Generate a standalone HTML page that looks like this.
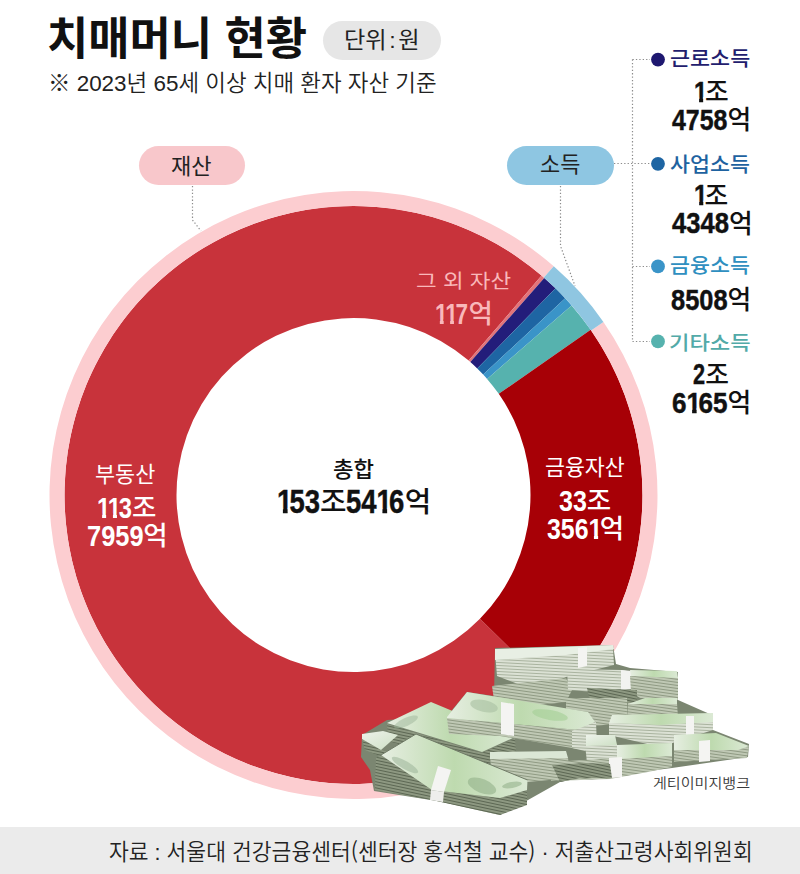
<!DOCTYPE html>
<html lang="ko"><head><meta charset="utf-8">
<title>치매머니 현황</title>
<style>
*{margin:0;padding:0;box-sizing:border-box}
html,body{width:800px;height:874px;background:#fff;overflow:hidden}
body{position:relative;font-family:"Liberation Sans","Noto Sans CJK KR",sans-serif;color:#111}
.a{position:absolute;white-space:nowrap;line-height:1;transform-origin:0 0}
.k{font-family:"Liberation Sans","Noto Sans CJK KR",sans-serif}
.n{font-family:"Liberation Sans","Noto Sans CJK KR",sans-serif}
.num{display:flex;align-items:center}
.dg{display:inline-block;font-family:"Liberation Sans",sans-serif;font-weight:700;line-height:1}
.dg b{display:inline-block;transform-origin:0 50%;font-weight:700;-webkit-text-stroke:0.45px currentColor}
.dg i{font-style:normal;display:inline-block;line-height:1;margin-right:-.1em;clip-path:polygon(0 0,100% 0,100% .70em,.385em .70em,.385em 100%,.215em 100%,.215em .70em,0 .70em)}
.nostk .dg b{-webkit-text-stroke:0}
.hg{display:inline-block;position:relative;font-family:"Noto Sans CJK KR",sans-serif;font-weight:500;line-height:1}
#unit{position:absolute;left:323px;top:21px;width:118px;height:39px;border-radius:20px;background:#e6e6e6}
.pill{position:absolute;height:39px;border-radius:20px}
.cj{font-family:"Noto Sans CJK KR",sans-serif}
svg{position:absolute;left:0;top:0}
#footbg{position:absolute;left:0;top:827px;width:800px;height:47px;background:#ebebeb}
</style></head><body>
<svg width="800" height="874" viewBox="0 0 800 874">
<path fill="#c8333b" d="M559.98,697.20A289,289 0 1 1 541.57,275.57L468.69,360.61A177,177 0 1 0 479.96,618.84Z"/>
<path fill="#e2747a" d="M541.57,275.57A289,289 0 0 1 544.24,277.88L470.32,362.03A177,177 0 0 0 468.69,360.61Z"/>
<path fill="#231d7a" d="M544.24,277.88A289,289 0 0 1 555.52,288.34L477.23,368.43A177,177 0 0 0 470.32,362.03Z"/>
<path fill="#1e65a3" d="M555.52,288.34A289,289 0 0 1 565.20,298.27L483.16,374.51A177,177 0 0 0 477.23,368.43Z"/>
<path fill="#3a94c8" d="M565.20,298.27A289,289 0 0 1 571.61,305.40L487.08,378.88A177,177 0 0 0 483.16,374.51Z"/>
<path fill="#56b2ae" d="M571.61,305.40A289,289 0 0 1 590.67,329.86L498.76,393.86A177,177 0 0 0 487.08,378.88Z"/>
<path fill="#a70006" d="M590.67,329.86A289,289 0 0 1 559.98,697.20L479.96,618.84A177,177 0 0 0 498.76,393.86Z"/>
<path fill="#fccdd0" d="M603.43,321.94A304,304 0 1 1 553.74,266.27L543.86,277.55A289,289 0 1 0 591.10,330.48Z"/>
<path fill="#8fc6e1" d="M553.74,266.27A304,304 0 0 1 603.43,321.94L591.10,330.48A289,289 0 0 0 543.86,277.55Z"/>

<g fill="none" stroke="#8c8c8c" stroke-width="1.2" stroke-dasharray="1.3 2.1">
<path d="M192.5,186V220L201,231"/>
<path d="M560.5,186V246L575,286"/>
<path d="M614,163.5H650"/>
<path d="M632.5,59.5V341.5"/>
<path d="M632.5,59.5H650M632.5,266.5H650M632.5,341.5H650"/>
</g>
<circle cx="658" cy="59.6" r="6.9" fill="#1e1870"/>
<circle cx="658" cy="163.8" r="6.9" fill="#1e65a3"/>
<circle cx="658" cy="266.4" r="6.9" fill="#3a94c8"/>
<circle cx="658" cy="341.4" r="6.9" fill="#56b2ae"/>
</svg>
<svg id="money" width="800" height="874" viewBox="0 0 800 874" style="position:absolute;left:0;top:0">
<defs>
<pattern id="stk" width="6" height="3" patternUnits="userSpaceOnUse" patternTransform="rotate(8)">
<rect width="6" height="3" fill="#bfc8b4"/><rect y="2" width="6" height="1" fill="#8f9a83"/>
</pattern>
<pattern id="stkL" width="6" height="3" patternUnits="userSpaceOnUse" patternTransform="rotate(3)">
<rect width="6" height="3" fill="#dbe1d4"/><rect y="2" width="6" height="1" fill="#a9b39f"/>
</pattern>
<pattern id="stkD" width="6" height="3" patternUnits="userSpaceOnUse" patternTransform="rotate(12)">
<rect width="6" height="3" fill="#8d9881"/><rect y="2" width="6" height="1" fill="#5c6753"/>
</pattern>
<pattern id="stkR" width="6" height="3" patternUnits="userSpaceOnUse" patternTransform="rotate(-14)">
<rect width="6" height="3" fill="#bfc8b4"/><rect y="2" width="6" height="1" fill="#8f9a83"/>
</pattern>
<linearGradient id="top" x1="0" y1="0" x2="1" y2="1">
<stop offset="0" stop-color="#edf2ea"/><stop offset="1" stop-color="#cde0c4"/>
</linearGradient>
<linearGradient id="topG" x1="0" y1="0" x2="1" y2="0">
<stop offset="0" stop-color="#e6eee1"/><stop offset=".5" stop-color="#bedaaf"/><stop offset="1" stop-color="#dbe9d4"/>
</linearGradient>
</defs>
<!-- base dark mass -->
<path fill="#7b8671" d="M362,735L387,720L447,716L467,692L494,696L495,648L613,645L616,664L630,668L678,672L678,700L712,715L713,730L749,744L748,757L672,768L648,771L620,776L580,778L560,782L528,800L500,815L437,801L374,791L370,770L361,757Z"/>
<!-- T1 topmost -->
<path fill="url(#stkL)" d="M495,652L613,648L614,665L566,677L537,691L497,676Z"/>
<path fill="#e8efe4" d="M495,649L613,645L614,649L566,655L495,660Z"/>
<path fill="#f4f4f2" d="M578,648L587,647L587,666L578,668Z"/>
<!-- T2 between T1 and M0 -->
<path fill="url(#stk)" d="M492,686L566,678L572,690L566,702L530,706L494,700Z"/>
<!-- R-top -->
<path fill="url(#stkL)" d="M567,669L622,670L632,672L632,688L610,693L568,690Z"/>
<path fill="#f2f3f0" d="M621,670L632,671L632,689L621,690Z"/>
<!-- R1 -->
<path fill="url(#stk)" d="M630,676L678,677L678,700L640,698L631,692Z"/>
<path fill="url(#topG)" d="M630,670L677,671L678,678L631,676Z"/>
<!-- R2 dark mid -->
<path fill="url(#stkD)" d="M587,688L637,690L637,703L590,703Z"/>
<!-- R3 -->
<path fill="url(#stk)" d="M566,698L627,698L628,722L595,726L566,720Z"/>
<!-- R4 -->
<path fill="url(#stk)" d="M628,703L677,703L678,718L640,721L628,718Z"/>
<path fill="url(#topG)" d="M645,698L677,698L677,704L628,704Z"/>
<!-- L1 -->
<path fill="url(#stkD)" d="M387,724L482,753L515,738L516,751L482,767L388,741Z"/>
<path fill="url(#topG)" d="M387,723L431,702L515,737L482,752Z"/>
<ellipse cx="406" cy="722" rx="13" ry="4" transform="rotate(-25 406 722)" fill="#9db59a" opacity=".5"/>
<!-- M0 big middle -->
<path fill="url(#stk)" d="M447,718L578,730L595,722L594,737L578,749L500,736L449,734Z"/>
<path fill="url(#topG)" d="M447,717L467,692L588,712L595,722L578,730L447,718Z"/>
<ellipse cx="484" cy="706" rx="14" ry="6" transform="rotate(12 484 706)" fill="#a9bfa2" opacity=".6"/>
<ellipse cx="550" cy="715" rx="18" ry="5" transform="rotate(10 550 715)" fill="#a3cf94" opacity=".6"/>
<path fill="#f4f4f2" d="M501,702L514,704L514,736L501,734Z"/>
<!-- L-right thick light end -->
<path fill="url(#stkL)" d="M572,731L596,722L597,746L585,751L572,748Z"/>
<!-- L2 far left -->
<path fill="url(#stkD)" d="M362,739L381,750L390,752L380,756L365,750Z"/>
<path fill="url(#top)" d="M362,734L383,731L398,735L381,750L362,739Z"/>
<!-- R5 -->
<path fill="url(#stkL)" d="M609,722L713,721L713,730L688,738L660,747L609,735Z"/>
<path fill="url(#topG)" d="M612,715L713,713L713,722L660,725L609,723Z"/>
<path fill="#f4f4f2" d="M686,716L694,716L694,738L686,740Z"/>
<!-- R6 -->
<path fill="url(#stk)" d="M674,750L749,746L747,758L674,762Z"/>
<path fill="url(#topG)" d="M674,735L716,733L749,746L738,750L674,750Z"/>
<path fill="#f4f4f2" d="M699,741L710,740L710,761L699,762Z"/>
<!-- "10000" bundle 585-617 x 735-762 -->
<path fill="url(#stkL)" d="M585,744L617,744L618,762L587,763Z"/>
<path fill="url(#top)" d="M586,735L615,735L617,745L586,746Z"/>
<!-- R7 -->
<path fill="url(#stk)" d="M551,762L617,758L672,755L672,767L648,772L610,779L551,781Z"/>
<path fill="url(#topG)" d="M617,745L672,743L672,756L617,759Z"/>
<path fill="#f4f4f2" d="M609,758L622,757L622,777L609,778Z"/>
<!-- M1b 490-570 x 750-780 -->
<path fill="url(#stk)" d="M490,757L568,757L570,778L528,782L492,775Z"/>
<path fill="#dbe7d5" d="M490,752L566,751L568,758L490,759Z"/>
<!-- lower center darks -->
<path fill="url(#stkD)" d="M552,765L585,763L610,764L612,778L580,778L560,782Z"/>
<!-- F1 front big -->
<path fill="url(#stkD)" d="M376,758L381,755L432,790L500,798L527,790L527,805L500,815L432,800L375,790Z"/>
<path fill="url(#topG)" d="M381,755L416,734L527.5,780L527,790L500,798L432,790Z"/>
<path fill="none" stroke="#6f7a66" stroke-width="1" d="M381,755L416,734L527.5,780"/>
<path fill="#f4f4f2" d="M431,790L444,792L451,770L438,766Z"/>
<path fill="#eeeeec" d="M431,790L444,792L443,802L430,800Z"/>
<g opacity=".55">
<ellipse cx="482" cy="786" rx="15" ry="7" transform="rotate(22 482 786)" fill="#8fae86"/>
<ellipse cx="405" cy="765" rx="15" ry="4" transform="rotate(30 405 765)" fill="#9db59a"/>
<ellipse cx="512" cy="785" rx="10" ry="3" transform="rotate(-10 512 785)" fill="#8fae86"/>
</g>
</svg>

<div id="unit"></div>
<div class="pill" style="left:139px;top:146px;width:106px;background:#f8c7cb"></div>
<div class="pill" style="left:507px;top:146px;width:107px;background:#8ec6e2"></div>
<div id="footbg"></div>
<div class="a k" id="title" style="left:47.20px;top:17.25px;font-size:45.38px;font-weight:700;color:#111;transform:scaleX(0.9887)">치매머니 현황</div>
<div class="a k" id="unitt" style="left:344.28px;top:30.08px;font-size:22.30px;font-weight:400;color:#222;transform:scaleX(1.0393)">단위<span style="margin:0 2.5px">:</span>원</div>
<div class="a k" id="sub" style="left:48.44px;top:73.11px;font-size:22.38px;font-weight:350;color:#222;transform:scaleX(1.0025)">※ 2023년 65세 이상 치매 환자 자산 기준</div>
<div class="a k" id="p1t" style="left:171.05px;top:155.60px;font-size:21.74px;font-weight:400;color:#222;transform:scaleX(1.0148)">재산</div>
<div class="a k" id="p2t" style="left:539.62px;top:154.39px;font-size:21.74px;font-weight:400;color:#222;transform:scaleX(1.0095)">소득</div>
<div class="a k" id="l1" style="left:670.04px;top:49.16px;font-size:20.30px;font-weight:500;color:#231d6e;transform:scaleX(1.0743)">근로소득</div>
<div class="a num" id="l1a" style="left:694.20px;top:76.85px;height:29.30px;color:#111"><span class="dg" style="width:10.81px;font-size:29.30px"><b style="transform:scaleX(0.8091)"><i>1</i></b></span><span class="hg" style="font-size:25.80px;top:-1.40px">조</span></div>
<div class="a num" id="l1b" style="left:672.20px;top:104.65px;height:29.30px;color:#111"><span class="dg" style="width:55.41px;font-size:29.30px"><b style="transform:scaleX(0.8500)">4758</b></span><span class="hg" style="font-size:25.80px;top:-1.40px">억</span></div>
<div class="a k" id="l2" style="left:669.99px;top:154.55px;font-size:20.09px;font-weight:500;color:#1e62a0;transform:scaleX(1.0812)">사업소득</div>
<div class="a num" id="l2a" style="left:693.60px;top:180.35px;height:29.30px;color:#111"><span class="dg" style="width:11.00px;font-size:29.30px"><b style="transform:scaleX(0.8227)"><i>1</i></b></span><span class="hg" style="font-size:25.80px;top:-1.40px">조</span></div>
<div class="a num" id="l2b" style="left:672.00px;top:208.25px;height:29.30px;color:#111"><span class="dg" style="width:56.96px;font-size:29.30px"><b style="transform:scaleX(0.8739)">4348</b></span><span class="hg" style="font-size:25.80px;top:-1.40px">억</span></div>
<div class="a k" id="l3" style="left:670.04px;top:256.37px;font-size:20.30px;font-weight:500;color:#2f8fc0;transform:scaleX(1.0710)">금융소득</div>
<div class="a num" id="l3b" style="left:671.00px;top:284.85px;height:29.30px;color:#111"><span class="dg" style="width:56.52px;font-size:29.30px"><b style="transform:scaleX(0.8670)">8508</b></span><span class="hg" style="font-size:25.80px;top:-1.40px">억</span></div>
<div class="a k" id="l4" style="left:668.95px;top:333.65px;font-size:19.32px;font-weight:500;color:#52aaa8;transform:scaleX(1.1478)">기타소득</div>
<div class="a num" id="l4a" style="left:693.20px;top:359.35px;height:29.30px;color:#111"><span class="dg" style="width:12.07px;font-size:29.30px"><b style="transform:scaleX(0.7409)">2</b></span><span class="hg" style="font-size:25.80px;top:-1.40px">조</span></div>
<div class="a num" id="l4b" style="left:672.00px;top:387.85px;height:29.30px;color:#111"><span class="dg" style="width:55.46px;font-size:29.30px"><b style="transform:scaleX(0.8909)">6<i>1</i>65</b></span><span class="hg" style="font-size:25.80px;top:-1.40px">억</span></div>
<div class="a k" id="tot" style="left:332.79px;top:458.98px;font-size:21.97px;font-weight:500;color:#111;transform:scaleX(1.0141)">총합</div>
<div class="a num" id="totv" style="left:276.80px;top:485.20px;height:33.40px;color:#111"><span class="dg" style="width:43.10px;font-size:33.40px"><b style="transform:scaleX(0.8227)"><i>1</i>53</b></span><span class="hg" style="font-size:28.80px;top:-1.60px">조</span><span class="dg" style="width:58.38px;font-size:33.40px"><b style="transform:scaleX(0.8227)">54<i>1</i>6</b></span><span class="hg" style="font-size:28.80px;top:-1.60px">억</span></div>
<div class="a k" id="re" style="left:95.46px;top:465.46px;font-size:21.47px;font-weight:400;color:#fff;transform:scaleX(1.0167)">부동산</div>
<div class="a num nostk" id="rea" style="left:97.20px;top:492.75px;height:29.30px;color:#fff"><span class="dg" style="width:34.82px;font-size:29.30px"><b style="transform:scaleX(0.8091)"><i>1</i><i>1</i>3</b></span><span class="hg" style="font-size:26.50px;top:-1.40px">조</span></div>
<div class="a num nostk" id="reb" style="left:86.80px;top:521.15px;height:29.30px;color:#fff"><span class="dg" style="width:56.52px;font-size:29.30px"><b style="transform:scaleX(0.8670)">7959</b></span><span class="hg" style="font-size:26.50px;top:-1.40px">억</span></div>
<div class="a k" id="fa" style="left:544.53px;top:457.62px;font-size:21.47px;font-weight:400;color:#fff;transform:scaleX(1.0089)">금융자산</div>
<div class="a num nostk" id="faa" style="left:558.80px;top:485.85px;height:29.30px;color:#fff"><span class="dg" style="width:27.93px;font-size:29.30px"><b style="transform:scaleX(0.8568)">33</b></span><span class="hg" style="font-size:26.50px;top:-1.40px">조</span></div>
<div class="a num nostk" id="fab" style="left:546.80px;top:514.35px;height:29.30px;color:#fff"><span class="dg" style="width:52.92px;font-size:29.30px"><b style="transform:scaleX(0.8500)">356<i>1</i></b></span><span class="hg" style="font-size:26.50px;top:-1.40px">억</span></div>
<div class="a k" id="oth" style="left:415.93px;top:271.95px;font-size:19.51px;font-weight:400;color:#f9b8ba;transform:scaleX(1.1509)">그 외 자산</div>
<div class="a num nostk" id="otha" style="left:435.40px;top:298.85px;height:29.30px;color:#f9b8ba"><span class="dg" style="width:33.05px;font-size:29.30px"><b style="transform:scaleX(0.7682)"><i>1</i><i>1</i>7</b></span><span class="hg" style="font-size:26.50px;top:-1.40px">억</span></div>
<div class="a k" id="getty" style="left:652.99px;top:775.84px;font-size:14.08px;font-weight:350;color:#3a3a3a;transform:scaleX(1.0701)">게티이미지뱅크</div>
<div class="a k" id="foot" style="left:109.26px;top:839.19px;font-size:22.39px;font-weight:350;color:#222;transform:scaleX(0.9622)">자료 : 서울대 건강금융센터<span class="cj">(</span>센터장 홍석철 교수<span class="cj">)</span> · 저출산고령사회위원회</div>
</body></html>
